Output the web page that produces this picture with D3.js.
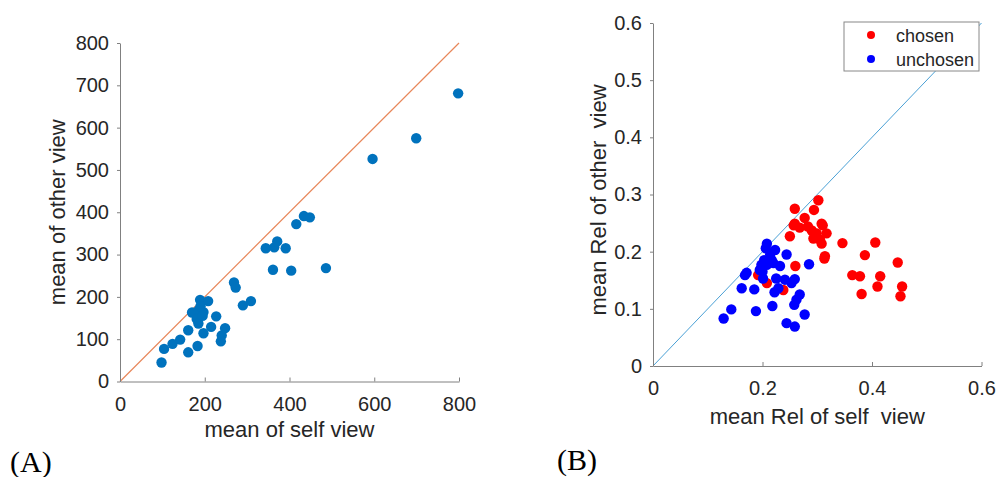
<!DOCTYPE html>
<html>
<head>
<meta charset="utf-8">
<script src="https://cdn.jsdelivr.net/npm/d3@7"></script>
<style>
  body { margin: 0; background: #fff; }
  text { font-family: Arial, "Liberation Sans", sans-serif; }
</style>
</head>
<body>
<script>
// (A) mean of self view vs mean of other view
var selfMeans = [98, 104, 124, 142, 161, 161, 183, 170, 185, 197, 189, 208, 181, 185, 190, 195, 197, 215, 227, 238, 240, 248, 269, 273, 290, 309, 344, 364, 371, 391, 361, 404, 486, 416, 434, 448, 596, 699, 798];
var otherMeans = [45, 77, 89, 99, 69, 121, 84, 163, 168, 164, 193, 190, 148, 137, 178, 155, 114, 129, 154, 95, 109, 126, 234, 222, 180, 190, 315, 317, 331, 315, 264, 262, 268, 372, 391, 388, 526, 575, 681];

// (B) chosen / unchosen, mean Rel of self vs other view
var chosenSelf = [0.259, 0.302, 0.294, 0.277, 0.257, 0.259, 0.268, 0.283, 0.310, 0.308, 0.290, 0.299, 0.317, 0.250, 0.293, 0.305, 0.308, 0.314, 0.313, 0.346, 0.406, 0.387, 0.447, 0.364, 0.378, 0.415, 0.410, 0.381, 0.455, 0.452, 0.260, 0.192, 0.208, 0.238];
var chosenOther = [0.275, 0.290, 0.273, 0.259, 0.246, 0.249, 0.242, 0.244, 0.246, 0.249, 0.237, 0.232, 0.232, 0.227, 0.223, 0.221, 0.214, 0.192, 0.188, 0.215, 0.216, 0.194, 0.181, 0.159, 0.157, 0.157, 0.139, 0.126, 0.139, 0.122, 0.175, 0.159, 0.145, 0.133];
var unchosenSelf = [0.129, 0.143, 0.162, 0.168, 0.171, 0.185, 0.188, 0.218, 0.244, 0.259, 0.277, 0.258, 0.262, 0.268, 0.222, 0.229, 0.253, 0.259, 0.241, 0.225, 0.201, 0.195, 0.198, 0.208, 0.220, 0.232, 0.217, 0.203, 0.244, 0.285, 0.208, 0.206, 0.223, 0.214, 0.200];
var unchosenOther = [0.083, 0.099, 0.136, 0.159, 0.163, 0.134, 0.096, 0.105, 0.075, 0.069, 0.090, 0.107, 0.116, 0.125, 0.129, 0.136, 0.145, 0.152, 0.151, 0.153, 0.153, 0.168, 0.177, 0.177, 0.180, 0.175, 0.185, 0.185, 0.195, 0.178, 0.214, 0.206, 0.203, 0.195, 0.165];

var ticksA = { x: [0, 200, 400, 600, 800], y: [0, 100, 200, 300, 400, 500, 600, 700, 800] };
var ticksB = { x: [0, 0.2, 0.4, 0.6], y: [0, 0.1, 0.2, 0.3, 0.4, 0.5, 0.6] };
var seriesNames = ["chosen", "unchosen"];

var axisColor = "#808080",
  labelColor = "#262626";

var svg = d3
  .select("body")
  .append("svg")
  .attr("width", 997)
  .attr("height", 477);

// draws the two axes of one panel
function drawAxes(g, x, y, xt, yt, fmt) {
  var xa = g
    .append("g")
    .attr("transform", "translate(0," + y.range()[0] + ")")
    .call(d3.axisBottom(x).tickValues(xt).tickSize(-4).tickSizeOuter(0).tickPadding(15).tickFormat(fmt));
  var ya = g
    .append("g")
    .attr("transform", "translate(" + x.range()[0] + ",0)")
    .call(d3.axisLeft(y).tickValues(yt).tickSize(3).tickSizeOuter(0).tickPadding(8).tickFormat(fmt));
  [xa, ya].forEach(function (a) {
    a.select(".domain").attr("stroke", axisColor);
    a.selectAll(".tick line").attr("stroke", axisColor);
    a.selectAll(".tick text")
      .attr("fill", labelColor)
      .style("font-size", "20px")
      .style("font-family", "Arial, 'Liberation Sans', sans-serif");
  });
}

// ---- panel A
var xA = d3.scaleLinear().domain([0, 800]).range([120, 459]);
var yA = d3.scaleLinear().domain([0, 800]).range([381.5, 43]);
var gA = svg.append("g");

gA.append("line")
  .attr("x1", xA(0)).attr("y1", yA(0))
  .attr("x2", xA(800)).attr("y2", yA(800))
  .attr("stroke", "#e8875a")
  .attr("stroke-width", 1.2);

drawAxes(gA, xA, yA, ticksA.x, ticksA.y, d3.format("d"));

gA.append("g")
  .selectAll("circle")
  .data(selfMeans)
  .enter()
  .append("circle")
  .attr("cx", function (d) { return xA(d); })
  .attr("cy", function (d, i) { return yA(otherMeans[i]); })
  .attr("r", 5.2)
  .attr("fill", "#0072bd");

gA.append("text")
  .attr("x", (xA(0) + xA(800)) / 2)
  .attr("y", 437)
  .attr("text-anchor", "middle")
  .attr("fill", labelColor)
  .style("font-size", "22px")
  .text("mean of self view");

gA.append("text")
  .attr("transform", "translate(65," + (yA(0) + yA(800)) / 2 + ") rotate(-90)")
  .attr("text-anchor", "middle")
  .attr("fill", labelColor)
  .style("font-size", "22px")
  .text("mean of other view");

// ---- panel B
var xB = d3.scaleLinear().domain([0, 0.6]).range([653, 981.5]);
var yB = d3.scaleLinear().domain([0, 0.6]).range([366, 23]);
var gB = svg.append("g");

gB.append("line")
  .attr("x1", xB(0)).attr("y1", yB(0))
  .attr("x2", xB(0.6)).attr("y2", yB(0.6))
  .attr("stroke", "#4aa0d5")
  .attr("stroke-width", 1);

drawAxes(gB, xB, yB, ticksB.x, ticksB.y, d3.format("~g"));

var groups = [
  { name: seriesNames[0], xs: chosenSelf, ys: chosenOther, color: "#ff0000" },
  { name: seriesNames[1], xs: unchosenSelf, ys: unchosenOther, color: "#0000ff" }
];

groups.forEach(function (s) {
  gB.append("g")
    .selectAll("circle")
    .data(s.xs)
    .enter()
    .append("circle")
    .attr("cx", function (d) { return xB(d); })
    .attr("cy", function (d, i) { return yB(s.ys[i]); })
    .attr("r", 5.2)
    .attr("fill", s.color);
});

gB.append("text")
  .attr("x", (xB(0) + xB(0.6)) / 2)
  .attr("y", 424)
  .attr("text-anchor", "middle")
  .attr("fill", labelColor)
  .style("font-size", "22px")
  .style("white-space", "pre")
  .text("mean Rel of self  view");

gB.append("text")
  .attr("transform", "translate(606," + 200 + ") rotate(-90)")
  .attr("text-anchor", "middle")
  .attr("fill", labelColor)
  .style("font-size", "22px")
  .style("white-space", "pre")
  .text("mean Rel of other  view");

// legend
var legend = gB.append("g").attr("transform", "translate(844,22)");
legend.append("rect")
  .attr("width", 135)
  .attr("height", 49)
  .attr("fill", "#fff")
  .attr("stroke", "#888");
legend.selectAll("circle")
  .data(groups)
  .enter()
  .append("circle")
  .attr("cx", 27)
  .attr("cy", function (d, i) { return 13 + i * 24; })
  .attr("r", 4)
  .attr("fill", function (d) { return d.color; });
legend.selectAll("text")
  .data(groups)
  .enter()
  .append("text")
  .attr("x", 52)
  .attr("y", function (d, i) { return 20 + i * 24; })
  .attr("fill", labelColor)
  .style("font-size", "18px")
  .text(function (d) { return d.name; });

// panel letters
svg.append("text")
  .attr("x", 10).attr("y", 472)
  .style("font-family", "'Times New Roman', 'Liberation Serif', serif")
  .style("font-size", "30px")
  .text("(A)");
svg.append("text")
  .attr("x", 557).attr("y", 470)
  .style("font-family", "'Times New Roman', 'Liberation Serif', serif")
  .style("font-size", "30px")
  .text("(B)");
</script>
</body>
</html>
